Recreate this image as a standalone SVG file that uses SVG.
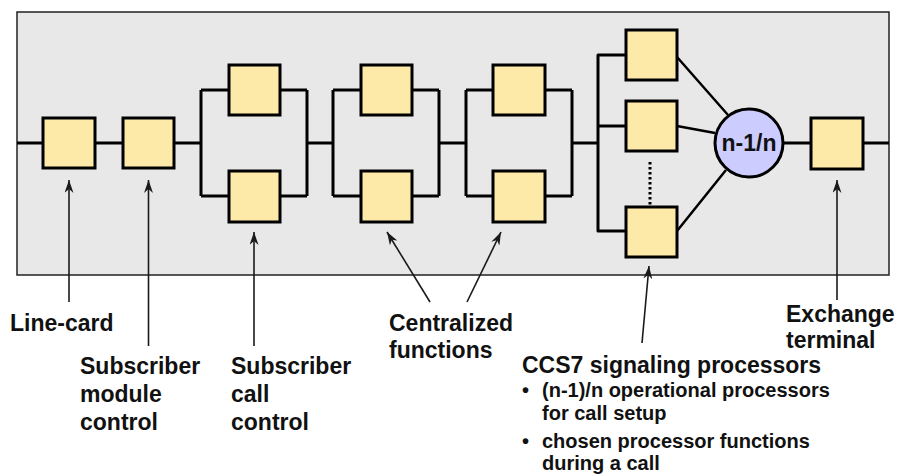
<svg xmlns="http://www.w3.org/2000/svg" width="900" height="476" viewBox="0 0 900 476">
  <style>
    .box { fill: #fde9a8; stroke: #000; stroke-width: 3; }
    .wire { fill: none; stroke: #000; stroke-width: 3; stroke-linejoin: round; }
    .spoke { fill: none; stroke: #000; stroke-width: 2.5; }
    .ptr { fill: none; stroke: #1a1a1a; stroke-width: 1.6; marker-end: url(#ah); }
    .lbl { font-family: "Liberation Sans", Arial, sans-serif; font-weight: bold; font-size: 23px; fill: #111; }
    .sm { font-family: "Liberation Sans", Arial, sans-serif; font-weight: bold; font-size: 20px; fill: #111; }
  </style>
  <defs>
    <marker id="ah" markerUnits="userSpaceOnUse" markerWidth="13" markerHeight="9" refX="13" refY="4.5" orient="auto">
      <path d="M0,0 L13,4.5 L0,9 L4,4.5 z" fill="#1a1a1a"/>
    </marker>
  </defs>

  <rect id="frame" x="17" y="12" width="872" height="263" fill="#e8e8e8" stroke="#222" stroke-width="1.5"/>

  <g id="connectors">
    <path class="wire" d="M17,143 H43 M95,143 H123 M174,143 H201"/>
    <path class="wire" d="M201,90 V196 M201,90 H229 M201,196 H229 M280,90 H307 M280,196 H307 M307,90 V196 M307,143 H333"/>
    <path class="wire" d="M333,90 V196 M333,90 H361 M333,196 H361 M412,90 H439 M412,196 H439 M439,90 V196 M439,143 H466"/>
    <path class="wire" d="M466,90 V196 M466,90 H493 M466,196 H493 M545,90 H572 M545,196 H572 M572,90 V196 M572,143 H598"/>
    <path class="wire" d="M598,55 V231 M598,55 H626 M598,126 H626 M598,231 H626" stroke-linecap="round"/>
    <path class="spoke" d="M677,57 L728,115 M677,126 L715,133 M677,231 L726,170"/>
    <path d="M650,162 V205" fill="none" stroke="#000" stroke-width="3" stroke-dasharray="2.5,2.5"/>
    <path class="wire" d="M783,143 H811 M863,143 H889"/>
    <path class="ptr" d="M69,302 V180"/>
    <path class="ptr" d="M148.5,346 V180"/>
    <path class="ptr" d="M254,346 V232"/>
    <path class="ptr" d="M430,302 L387,232"/>
    <path class="ptr" d="M467,302 L501,232"/>
    <path class="ptr" d="M642,343 L649,266"/>
    <path class="ptr" d="M837,300 V180"/>
  </g>

  <g id="line-card"><rect class="box" x="43" y="118" width="52" height="50"/></g>
  <g id="subscriber-module-control"><rect class="box" x="123" y="118" width="51" height="50"/></g>
  <g id="subscriber-call-control-a"><rect class="box" x="229" y="65" width="51" height="50"/></g>
  <g id="subscriber-call-control-b"><rect class="box" x="229" y="171" width="51" height="51"/></g>
  <g id="centralized-1a"><rect class="box" x="361" y="65" width="51" height="50"/></g>
  <g id="centralized-1b"><rect class="box" x="361" y="171" width="51" height="51"/></g>
  <g id="centralized-2a"><rect class="box" x="493" y="65" width="52" height="50"/></g>
  <g id="centralized-2b"><rect class="box" x="493" y="171" width="52" height="51"/></g>
  <g id="ccs7-1"><rect class="box" x="626" y="30" width="51" height="50"/></g>
  <g id="ccs7-2"><rect class="box" x="626" y="101" width="51" height="50"/></g>
  <g id="ccs7-n"><rect class="box" x="626" y="207" width="51" height="50"/></g>
  <g id="voter">
    <circle cx="749" cy="143" r="34" fill="#ccccff" stroke="#000" stroke-width="3"/>
    <text class="lbl" x="749" y="151" text-anchor="middle">n-1/n</text>
  </g>
  <g id="exchange-terminal"><rect class="box" x="811" y="118" width="52" height="51"/></g>

  <g id="labels">
    <text class="lbl" x="10" y="331">Line-card</text>
    <text class="lbl" x="80" y="374">Subscriber<tspan x="80" y="402">module</tspan><tspan x="80" y="430">control</tspan></text>
    <text class="lbl" x="231" y="374">Subscriber<tspan x="231" y="402">call</tspan><tspan x="231" y="430">control</tspan></text>
    <text class="lbl" x="389" y="331">Centralized<tspan x="389" y="358">functions</tspan></text>
    <text class="lbl" x="786" y="322">Exchange<tspan x="786" y="348">terminal</tspan></text>
    <text class="lbl" x="522" y="373">CCS7 signaling processors</text>
    <text class="sm" x="522" y="397">•</text>
    <text class="sm" x="542" y="397">(n-1)/n operational processors<tspan x="542" y="420">for call setup</tspan></text>
    <text class="sm" x="522" y="448">•</text>
    <text class="sm" x="542" y="448">chosen processor functions<tspan x="542" y="470">during a call</tspan></text>
  </g>
</svg>
